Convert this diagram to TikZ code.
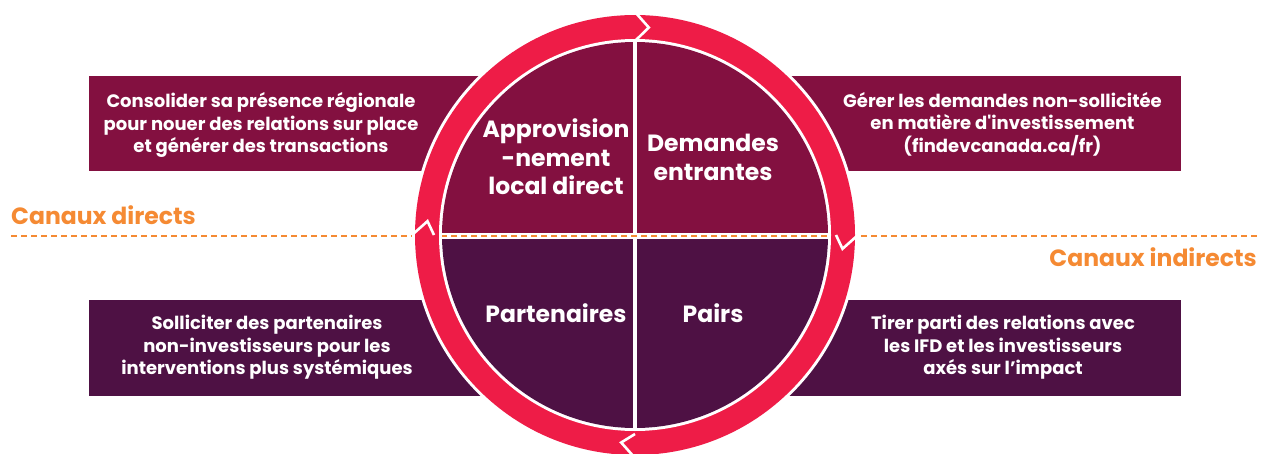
\documentclass[tikz,border=0pt]{standalone}
\usepackage{fontspec}
\setmainfont{Poppins}
\definecolor{maroonc}{RGB}{131,16,64}
\definecolor{dpurple}{RGB}{78,17,68}
\definecolor{ringred}{RGB}{238,28,71}
\definecolor{orng}{RGB}{245,138,51}
\begin{document}
\begin{tikzpicture}[x=1pt,y=-1pt,
  boxtext/.style={text=white, font=\fontsize{18}{22.5}\selectfont\bfseries, align=center, inner sep=0pt},
  quadtext/.style={text=white, font=\fontsize{23.5}{28.5}\selectfont\bfseries, align=center, inner sep=0pt},
  chantext/.style={text=orng, font=\fontsize{23.5}{26}\selectfont\bfseries, inner sep=0pt},
  dashline/.style={orng, line width=1.8pt, dash pattern=on 6pt off 4pt},
  chev/.style={white, line width=2.6pt, miter limit=10}]
\useasboundingbox (0,0) rectangle (1262,453);
\coordinate (c) at (635,235);
% side boxes
\fill[maroonc] (89,76) rectangle (560,171);
\fill[maroonc] (710,76) rectangle (1181,171);
\fill[dpurple] (89,300) rectangle (560,396);
\fill[dpurple] (710,300) rectangle (1181,396);
% dashed separator
\draw[dashline] (11,236) -- (1257,236);
% ring
\fill[white] (c) circle (223);
\fill[ringred] (c) circle (220);
\fill[white] (c) circle (196);
% chevron joints (clockwise)
\draw[chev] (635,12) -- (648.8,27.5) -- (635,41);
\draw[chev] (858,235) -- (842.5,248.8) -- (836,235);
\draw[chev] (635,458) -- (621.2,442.5) -- (635,434);
\draw[chev] (412,235) -- (427.5,221.2) -- (434,235);
% inner disk
\fill[maroonc] (828,235) arc[start angle=0, end angle=-180, radius=193] -- cycle;
\fill[dpurple] (828,235) arc[start angle=0, end angle=180, radius=193] -- cycle;
\fill[white] (440,233) rectangle (830,238.5);
\fill[white] (633,40) rectangle (637.2,430);
\begin{scope}
  \clip (c) circle (193);
  \draw[dashline] (11,236) -- (1257,236);
\end{scope}
% quadrant labels
\node[quadtext] (q1) at (556,157) {Approvision\\-nement\\local direct};
\node[quadtext] (q2) at (713,157.5) {Demandes\\entrantes};
\node[quadtext] (q3) at (556,313) {Partenaires};
\node[quadtext] (q4) at (713,313) {Pairs};
% box texts
\node[boxtext] (t1) at (261,125) {Consolider sa présence régionale\\pour nouer des relations sur place\\et générer des transactions};
\node[boxtext] (t2) at (1002.5,124) {Gérer les demandes non-sollicitée\\en matière d\textquotesingle investissement\\(findevcanada.ca/fr)};
\node[boxtext] (t3) at (267,347.5) {Solliciter des partenaires\\non-investisseurs pour les\\interventions plus systémiques};
\node[boxtext] (t4) at (1003,347.5) {Tirer parti des relations avec\\les IFD et les investisseurs\\axés sur l’impact};
% channel labels
\node[chantext, anchor=west] (cd) at (11,215) {Canaux directs};
\node[chantext, anchor=east] (ci) at (1257,257) {Canaux indirects};
\end{tikzpicture}
\end{document}
